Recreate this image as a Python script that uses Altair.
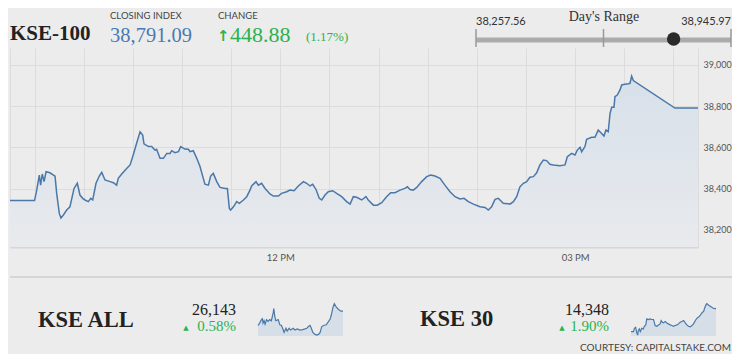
import altair as alt
import pandas as pd

# ---------------- data ----------------
# KSE-100 intraday: minutes since midnight, index value
MAIN_TIME = [555, 570, 571.3, 572.9, 573.7, 574.7, 575.8, 577.0, 579.4, 582.5, 583.5, 585.1, 586.1, 587.6,
             589.6, 591.6, 594.1, 596.1, 597.7, 599.4, 600.8, 602.8, 604.3, 605.5, 607.5, 609.5, 611.0, 613.0,
             616.1, 618.1, 620.1, 621.1, 623.2, 626.2, 628.3, 629.9, 632.3, 634.4, 636.0, 636.8, 639.5, 641.5,
             643.5, 644.5, 646.6, 648.6, 650.7, 652.7, 653.7, 655.7, 657.8, 659.2, 661.8, 663.9, 664.9, 666.9,
             669.0, 671.0, 673.0, 674.0, 676.1, 677.5, 679.1, 681.2, 683.2, 686.3, 687.7, 688.9, 689.7, 691.4,
             693.4, 695.0, 697.5, 699.5, 701.5, 702.5, 705.2, 706.6, 708.6, 710.7, 713.7, 715.8, 718.8, 720.8,
             723.9, 725.9, 728.4, 731.0, 734.1, 736.1, 738.1, 739.8, 741.8, 743.8, 745.3, 747.3, 749.3, 752.0,
             754.4, 757.5, 760.5, 762.6, 764.6, 766.6, 769.7, 772.3, 773.7, 776.8, 779.2, 781.9, 784.9, 787.4,
             790.0, 793.1, 796.1, 797.6, 799.2, 801.2, 803.3, 806.3, 809.4, 811.8, 814.4, 817.5, 820.5, 823.6,
             826.7, 829.7, 832.2, 834.8, 837.9, 841.9, 845.0, 847.0, 849.0, 851.1, 853.1, 856.1, 860.2, 862.3,
             864.3, 866.3, 868.4, 870.4, 872.4, 874.5, 876.5, 878.5, 880.6, 882.6, 884.6, 886.7, 890.7, 893.8,
             895.2, 897.9, 899.9, 901.3, 903.0, 904.0, 906.0, 907.0, 910.1, 912.1, 914.1, 915.6, 917.6, 918.8,
             920.2, 921.3, 922.3, 923.7, 924.3, 925.7, 927.4, 928.4, 930.4, 932.5, 933.5, 934.5, 935.5, 960.9,
             975]
MAIN_VALUE = [38342, 38342, 38393, 38466, 38417, 38471, 38434, 38482, 38477, 38461, 38377, 38280, 38258, 38272,
              38296, 38312, 38401, 38426, 38369, 38353, 38345, 38337, 38353, 38345, 38426, 38461, 38479, 38442,
              38434, 38429, 38417, 38450, 38471, 38498, 38515, 38555, 38620, 38676, 38660, 38617, 38604, 38604,
              38587, 38591, 38547, 38547, 38571, 38571, 38584, 38574, 38579, 38604, 38592, 38591, 38579, 38584,
              38547, 38507, 38450, 38422, 38417, 38461, 38474, 38434, 38406, 38401, 38401, 38304, 38296, 38312,
              38337, 38329, 38345, 38361, 38393, 38413, 38434, 38417, 38426, 38401, 38374, 38364, 38364, 38377,
              38385, 38393, 38390, 38413, 38434, 38426, 38413, 38421, 38396, 38353, 38345, 38369, 38385, 38390,
              38377, 38361, 38337, 38325, 38361, 38358, 38345, 38361, 38345, 38320, 38320, 38332, 38361, 38380,
              38380, 38393, 38401, 38409, 38396, 38393, 38406, 38434, 38458, 38466, 38461, 38450, 38417, 38385,
              38361, 38350, 38353, 38337, 38325, 38312, 38309, 38296, 38312, 38348, 38353, 38329, 38325, 38337,
              38361, 38409, 38426, 38434, 38455, 38458, 38477, 38515, 38539, 38536, 38518, 38515, 38511, 38515,
              38555, 38571, 38563, 38587, 38600, 38579, 38604, 38639, 38649, 38649, 38684, 38672, 38655, 38684,
              38676, 38765, 38795, 38795, 38846, 38854, 38879, 38903, 38906, 38909, 38911, 38946, 38924, 38791,
              38791]

ALL_TIME = [555, 563, 572, 577, 580, 585, 590, 597, 605, 613, 621, 630, 633, 638, 643, 655, 663, 671, 680, 684,
            693, 699, 709, 716, 729, 738, 749, 763, 776, 787, 796, 804, 812, 817, 826, 837, 846, 854, 862, 870,
            879, 892, 904, 912, 917, 925, 932, 942, 953, 965, 975]
ALL_VALUE = [26052, 26067, 26089, 26095, 26067, 26082, 26060, 26089, 26078, 26089, 26082, 26132, 26160, 26110,
             26082, 26089, 26056, 26052, 26023, 26008, 26034, 26017, 26034, 26023, 26034, 26023, 26030, 26023,
             26026, 26030, 26034, 26045, 26052, 26039, 26008, 25995, 25991, 25995, 26008, 26045, 26052, 26056,
             26078, 26095, 26117, 26165, 26191, 26169, 26154, 26143, 26143]

K30_TIME = [555, 567, 572, 578, 583, 588, 591, 596, 601, 608, 616, 621, 628, 633, 641, 649, 658, 666, 671, 674,
            682, 691, 699, 704, 710, 715, 724, 732, 740, 749, 757, 765, 773, 782, 790, 798, 806, 815, 823, 831,
            839, 848, 856, 864, 873, 881, 889, 897, 906, 914, 919, 926, 930, 939, 947, 959, 969, 975]
K30_VALUE = [14097, 14097, 14134, 14145, 14090, 14060, 14108, 14127, 14097, 14134, 14127, 14156, 14171, 14237,
             14230, 14237, 14230, 14230, 14193, 14164, 14156, 14171, 14182, 14219, 14200, 14193, 14208, 14193,
             14182, 14171, 14164, 14156, 14164, 14171, 14182, 14200, 14208, 14219, 14193, 14171, 14156, 14149,
             14164, 14182, 14219, 14245, 14256, 14274, 14304, 14318, 14355, 14392, 14403, 14385, 14374, 14355,
             14348, 14348]

CLOSE = 38791.09
CHANGE = 448.88
CHANGE_PCT = 1.17
DAY_LOW = 38257.56
DAY_HIGH = 38945.97
ALL_LAST = 26143
ALL_PCT = 0.58
K30_LAST = 14348
K30_PCT = 1.90

Y_TICKS = [38200, 38300, 38400, 38500, 38600, 38700, 38800, 38900, 39000]
X_TICKS = [555, 570, 600, 630, 660, 690, 720, 750, 780, 810, 840, 870, 900, 930, 960, 975]
T_OPEN, T_CLOSE = 555, 975

# ---------------- layout ----------------
BLUE = "#4a78a9"
GREEN = "#2bb24c"
DARK = "#222222"
GREY = "#444444"
ORIGIN_X = 10          # page x of the chart origin
FULL_W = 722           # page x 10 .. 732
HEADER_H = 40          # page y 8 .. 48
MAIN_W, MAIN_H = 688, 199
BOTTOM_Y = 8 + HEADER_H + MAIN_H
BOTTOM_H = 89


def ext_domain(lo, hi, px_lo, px_hi, total):
    """Scale domain over [0, total] px so that lo..hi lands on px_lo..px_hi."""
    k = (hi - lo) / (px_hi - px_lo)
    return [lo - px_lo * k, hi + (total - px_hi) * k]


def txt(s, x, y, size, color, font="Lato", weight="normal", align="left"):
    return alt.Chart(pd.DataFrame({"s": [s]})).mark_text(
        align=align, baseline="alphabetic", font=font, fontSize=size, fontWeight=weight, color=color
    ).encode(x=alt.value(x - ORIGIN_X), y=alt.value(y), text="s:N")


# ---------- header ----------
def H(y):
    return y - 8


rng = alt.Scale(domain=ext_domain(DAY_LOW, DAY_HIGH, 476 - ORIGIN_X, 731 - ORIGIN_X, FULL_W),
                nice=False, zero=False)
range_bar = alt.Chart(pd.DataFrame({"lo": [DAY_LOW], "hi": [DAY_HIGH]})).mark_rule(
    color="#ababab", strokeWidth=5).encode(
    x=alt.X("lo:Q", scale=rng, axis=None), x2="hi:Q", y=alt.value(H(40)))
range_ticks = alt.Chart(pd.DataFrame({"v": [DAY_LOW, (DAY_LOW + DAY_HIGH) / 2, DAY_HIGH]})).mark_rule(
    color="#9a9a9a", strokeWidth=1.5).encode(
    x=alt.X("v:Q", scale=rng, axis=None), y=alt.value(H(29)), y2=alt.value(H(47)))
dot = alt.Chart(pd.DataFrame({"v": [CLOSE]})).mark_circle(color="#2a2a2a", opacity=1, size=180).encode(
    x=alt.X("v:Q", scale=rng, axis=None), y=alt.value(H(39)))

header = alt.layer(
    range_bar, range_ticks, dot,
    txt("KSE-100", 10, H(40), 21, DARK, font="Liberation Serif", weight="bold"),
    txt("CLOSING INDEX", 110, H(19), 9.5, GREY),
    txt(f"{CLOSE:,.2f}", 110, H(42), 20.5, "#4a7ab3", font="Liberation Serif"),
    txt("CHANGE", 218, H(19), 9.5, GREY),
    txt("↑", 217, H(41), 15, GREEN, font="DejaVu Sans", weight="bold"),
    txt(f"{CHANGE:,.2f}", 230, H(42), 22, GREEN, font="Liberation Serif"),
    txt(f"({CHANGE_PCT:.2f}%)", 306, H(41), 13, GREEN, font="Liberation Serif"),
    txt("Day's Range", 604, H(21), 14, "#333333", font="Liberation Serif", align="center"),
    txt(f"{DAY_LOW:,.2f}", 476, H(25), 11, "#333333"),
    txt(f"{DAY_HIGH:,.2f}", 731, H(25), 11, "#333333", align="right"),
).properties(width=FULL_W, height=HEADER_H)

# ---------- main chart ----------
main_df = pd.DataFrame({"t": MAIN_TIME, "v": MAIN_VALUE})
xs = alt.Scale(domain=[T_OPEN, T_CLOSE], nice=False, zero=False)
ys = alt.Scale(domain=[38117, 39082], nice=False, zero=False)
grad = alt.Gradient(
    gradient="linear",
    stops=[alt.GradientStop(color="#d7e0ea", offset=0), alt.GradientStop(color="#e8eaed", offset=1)],
    x1=1, x2=1, y1=0, y2=1,
)
area = alt.Chart(main_df).mark_area(color=grad).encode(
    x=alt.X("t:Q", scale=xs, axis=alt.Axis(
        values=X_TICKS, grid=True, gridColor="#dcdcdc", ticks=False, domain=True, domainColor="#d6d6d6",
        domainWidth=2, title=None, labelExpr="datum.value == 720 ? '12 PM' : (datum.value == 900 ? '03 PM' : '')",
        labelFont="Lato", labelFontSize=9.5, labelColor="#555555", labelPadding=5)),
    y=alt.Y("v:Q", scale=ys, axis=alt.Axis(
        orient="right", values=Y_TICKS, grid=True, gridColor="#dcdcdc", ticks=False, domain=False, title=None,
        labelExpr="datum.value % 200 == 0 ? format(datum.value, ',.0f') : ''",
        labelFont="Lato", labelFontSize=9, labelColor="#555555", labelPadding=5)),
    y2=alt.datum(38117),
)
line = alt.Chart(main_df).mark_line(color=BLUE, strokeWidth=1.5).encode(
    x=alt.X("t:Q", scale=xs), y=alt.Y("v:Q", scale=ys))
main = alt.layer(area, line).properties(width=MAIN_W, height=MAIN_H)


# ---------- bottom row ----------
def B(y):
    return y - BOTTOM_Y


def spark(times, values, lo, hi, x0, x1, y0, y1):
    df = pd.DataFrame({"t": times, "v": values})
    sx = alt.Scale(domain=ext_domain(T_OPEN, T_CLOSE, x0 - ORIGIN_X, x1 - ORIGIN_X, FULL_W),
                   nice=False, zero=False)
    dom = ext_domain(lo, hi, BOTTOM_H - B(y0), BOTTOM_H - B(y1), BOTTOM_H)
    sy = alt.Scale(domain=dom, nice=False, zero=False)
    a = alt.Chart(df).mark_area(color="#d6dee8").encode(
        x=alt.X("t:Q", scale=sx, axis=None), y=alt.Y("v:Q", scale=sy, axis=None), y2=alt.datum(lo))
    l = alt.Chart(df).mark_line(color=BLUE, strokeWidth=1.2).encode(
        x=alt.X("t:Q", scale=sx, axis=None), y=alt.Y("v:Q", scale=sy, axis=None))
    return alt.layer(a, l)


sep = alt.Chart(pd.DataFrame({"a": [0]})).mark_rule(color="#d6d6d6", strokeWidth=2).encode(
    x=alt.value(0), x2=alt.value(FULL_W), y=alt.value(B(277)))

texts_bottom = alt.layer(
    sep,
    txt("KSE ALL", 38, B(327), 22.5, DARK, font="Liberation Serif", weight="bold"),
    txt(f"{ALL_LAST:,}", 236, B(315), 16, DARK, font="Liberation Serif", align="right"),
    txt("▲", 186, B(330), 7, GREEN, font="DejaVu Sans", align="center"),
    txt(f"{ALL_PCT:.2f}%", 236, B(331), 15, GREEN, font="Liberation Serif", align="right"),
    txt("KSE 30", 420, B(326), 22.5, DARK, font="Liberation Serif", weight="bold"),
    txt(f"{K30_LAST:,}", 609, B(315), 16, DARK, font="Liberation Serif", align="right"),
    txt("▲", 562, B(330), 7, GREEN, font="DejaVu Sans", align="center"),
    txt(f"{K30_PCT:.2f}%", 609, B(331), 15, GREEN, font="Liberation Serif", align="right"),
    txt("COURTESY: CAPITALSTAKE.COM", 731, B(351), 10, GREY, align="right"),
)

bottom = alt.layer(
    texts_bottom,
    spark(ALL_TIME, ALL_VALUE, 25985, 26195, 258, 343, 336, 303),
    spark(K30_TIME, K30_VALUE, 14050, 14410, 631, 716, 336, 303),
).resolve_scale(x="independent", y="independent").properties(width=FULL_W, height=BOTTOM_H)

# Fixed-size canvas: 724 x 346 px (page minus the 8px margins), origin at page (10, 8).
chart = alt.vconcat(header, main, bottom, spacing=0, bounds="flush").properties(
    autosize=alt.AutoSizeParams(type="none"),
    padding={"left": 2, "top": 0, "right": 722, "bottom": 346},
).configure(background="#ececec").configure_view(stroke="transparent")

chart.save("out.html", embed_options={"renderer": "svg", "actions": False})
